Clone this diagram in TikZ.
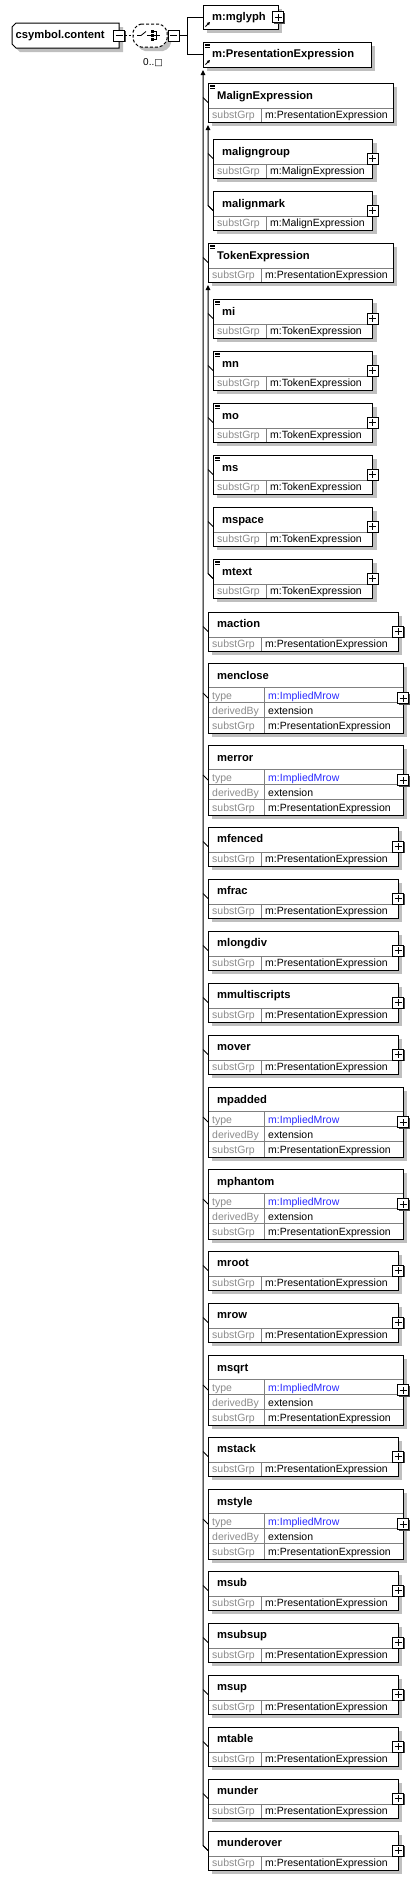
\documentclass[tikz,border=0pt]{standalone}
\usepackage{fontspec}
\setmainfont{Liberation Sans}
\newfontfamily\symfont{DejaVu Sans}
\usepackage{tikz}
\usetikzlibrary{shadows,arrows.meta}
\definecolor{implblue}{RGB}{40,40,255}

\begin{document}
\begin{tikzpicture}[x=1pt, y=-1pt,
    boxshadow/.style={drop shadow={shadow xshift=4pt, shadow yshift=-4pt, fill=black!25, opacity=1}},
    elbox/.style={draw, fill=white, line width=1pt, inner sep=0pt, outer sep=0pt, anchor=north west, boxshadow},
    hold/.style={inner sep=0pt, outer sep=0pt},
    pmbox/.style={draw, fill=white, line width=1pt, inner sep=0pt, outer sep=0pt, minimum size=11pt,
      drop shadow={shadow xshift=1.2pt, shadow yshift=-1.2pt, fill=black!70, opacity=1}},
    pbox/.style={pmbox, path picture={\draw[line width=0.9pt]
      ([xshift=-3.5pt]path picture bounding box.center) -- ([xshift=3.5pt]path picture bounding box.center)
      ([yshift=-3.5pt]path picture bounding box.center) -- ([yshift=3.5pt]path picture bounding box.center);}},
    mbox/.style={pmbox, path picture={\draw[line width=0.9pt]
      ([xshift=-3.5pt]path picture bounding box.center) -- ([xshift=3.5pt]path picture bounding box.center);}},
    eltitle/.style={anchor=base west, inner sep=0pt, font=\bfseries\fontsize{11.2}{13}\selectfont},
    attkey/.style={anchor=base west, inner sep=0pt, text=black!45, font=\fontsize{10.5}{12}\selectfont},
    attval/.style={anchor=base west, inner sep=0pt, font=\fontsize{10.5}{12}\selectfont},
    rowline/.style={draw=black!50, line width=0.8pt},
    link/.style={line width=1pt},
    subtick/.style={line width=0.8pt},
    upline/.style={link, -{Triangle[width=4.5pt,length=5pt]}, shorten >=3pt}]
      \useasboundingbox (0,0) rectangle (417,1880);
      \node[hold, anchor=north west, minimum width=107pt, minimum height=25pt] (csym) at (12,23) {};
      \draw[line width=1pt, fill=white, boxshadow] ([shift={(4,0)}]csym.north west) -- (csym.north east)
        -- (csym.south east) -- ([shift={(4,0)}]csym.south west) -- ([shift={(0,-4)}]csym.south west)
        -- ([shift={(0,4)}]csym.north west) -- cycle;
      \node[eltitle] (csym-t) at (15.5,38.5) {csymbol.content};
      \node[mbox] (csymM) at (csym.east) {};
      \node[hold, minimum width=34pt, minimum height=23pt] (seq) at (150,35.5) {};
      \draw[line width=1pt, fill=white, boxshadow, dash pattern=on 3pt off 2pt, rounded corners=2pt]
        ([shift={(6,0)}]seq.north west) -- ([shift={(-6,0)}]seq.north east) -- ([shift={(0,6)}]seq.north east)
        -- ([shift={(0,-6)}]seq.south east) -- ([shift={(-6,0)}]seq.south east) -- ([shift={(6,0)}]seq.south west)
        -- ([shift={(0,-6)}]seq.south west) -- ([shift={(0,6)}]seq.north west) -- cycle;
      \draw[line width=0.8pt] ([shift={(-13,0)}]seq.center) -- ++(4,0) -- ++(5,-4)
        ([shift={(-3,0)}]seq.center) -- ++(4,0);
      \foreach \d in {-4,0,4}
        \fill ([shift={(1,\d-1.3)}]seq.center) rectangle ++(2.7,2.7);
      \draw[line width=0.8pt] ([shift={(3.7,-4)}]seq.center) -- ++(3,0) -- ++(0,8) -- ++(-3,0)
        ([shift={(3.7,0)}]seq.center) -- ++(6,0);
      \node[mbox] (seqM) at (173.5,35.5) {};
      \node[anchor=base west, inner sep=0pt, font=\fontsize{10}{12}\selectfont] (seq-occ) at (143,65)
        {0..{\symfont\fontsize{9}{10}\selectfont □}};
      \draw[link, dash pattern=on 2pt off 2pt] (csymM.east) -- (seq.west);
      \node[elbox, minimum width=75pt, minimum height=24pt] (mglyph) at (203,5) {};
      \node[eltitle] (mglyph-t) at (212,20.5) {m:mglyph};
      \node[pbox] (mglyph-p) at (mglyph.east) {};
      \draw[line width=0.8pt, -{Triangle[width=3pt,length=3pt]}] ([shift={(2.5,-2.5)}]mglyph.south west) -- ++(4.5,-4.5);
      \node[elbox, minimum width=168pt, minimum height=25pt] (presExpr) at (203,42) {};
      \node[eltitle] (presExpr-t) at (212,57.5) {m:PresentationExpression};
      \draw[line width=0.7pt] ([shift={(2,2)}]presExpr.north west) -- ++(5,0) ++(-5,1.6) -- ++(5,0) ++(-5,1.6) -- ++(5,0);
      \draw[line width=0.8pt, -{Triangle[width=3pt,length=3pt]}] ([shift={(2.5,-2.5)}]presExpr.south west) -- ++(4.5,-4.5);
      \draw[link] (seqM.east) -- ++(8,0) |- (mglyph.west);
      \draw[link] (seqM.east) -- ++(8,0) |- (presExpr.west);
      \foreach \nm/\y in {MalignExpression/83, TokenExpression/243} {
        \node[elbox, minimum width=185pt, minimum height=39pt] (\nm) at (208,\y) {};
        \draw[rowline] (208.5,\y+25) -- ++(184,0) (261,\y+25) -- ++(0,13.5);
        \draw[line width=0.7pt] ([shift={(2,2)}]\nm.north west) -- ++(5,0) ++(-5,1.6) -- ++(5,0) ++(-5,1.6) -- ++(5,0);
        \node[eltitle] (\nm-t) at (217,\y+16) {\nm};
        \node[attkey] (\nm-k) at (212,\y+35) {substGrp};
        \node[attval] (\nm-v) at (265,\y+35) {m:PresentationExpression};
        \draw[subtick] (\nm.west) -- ++(-5,-5);
      }
      \foreach \nm/\y/\grp/\ic in {maligngroup/139/MalignExpression/0, malignmark/191/MalignExpression/0,
          mi/299/TokenExpression/1, mn/351/TokenExpression/1, mo/403/TokenExpression/1,
          ms/455/TokenExpression/1, mspace/507/TokenExpression/0, mtext/559/TokenExpression/1} {
        \node[elbox, minimum width=159.5pt, minimum height=39pt] (\nm) at (213,\y) {};
        \draw[rowline] (213.5,\y+25) -- ++(158.5,0) (266,\y+25) -- ++(0,13.5);
        \ifnum\ic=1
          \draw[line width=0.7pt] ([shift={(2,2)}]\nm.north west) -- ++(5,0) ++(-5,1.6) -- ++(5,0) ++(-5,1.6) -- ++(5,0);
        \fi
        \node[eltitle] (\nm-t) at (222,\y+16) {\nm};
        \node[attkey] (\nm-k) at (217,\y+35) {substGrp};
        \node[attval] (\nm-v) at (270,\y+35) {m:\grp};
        \node[pbox] (\nm-p) at (\nm.east) {};
        \draw[subtick] (\nm.west) -- ++(-5,-5);
      }
      \foreach \nm/\y in {maction/612, mfenced/827, mfrac/879, mlongdiv/931, mmultiscripts/983, mover/1035,
          mroot/1251, mrow/1303, mstack/1437, msub/1571, msubsup/1623, msup/1675, mtable/1727,
          munder/1779, munderover/1831} {
        \node[elbox, minimum width=190pt, minimum height=39pt] (\nm) at (208,\y) {};
        \draw[rowline] (208.5,\y+25) -- ++(189,0) (261,\y+25) -- ++(0,13.5);
        \node[eltitle] (\nm-t) at (217,\y+15.5) {\nm};
        \node[attkey] (\nm-k) at (212,\y+35) {substGrp};
        \node[attval] (\nm-v) at (265,\y+35) {m:PresentationExpression};
        \node[pbox] (\nm-p) at (\nm.east) {};
        \draw[subtick] (\nm.west) -- ++(-5,-5);
      }
      \foreach \nm/\y in {menclose/663, merror/745, mpadded/1087, mphantom/1169, msqrt/1355, mstyle/1489} {
        \node[elbox, minimum width=195pt, minimum height=70pt] (\nm) at (208,\y) {};
        \draw[rowline] (208.5,\y+24) -- ++(194,0) (208.5,\y+39.5) -- ++(194,0) (208.5,\y+54.5) -- ++(194,0)
          (264,\y+24) -- ++(0,45.5);
        \node[eltitle] (\nm-t) at (217,\y+16) {\nm};
        \node[attkey] (\nm-k1) at (212,\y+36) {type};
        \node[attval, text=implblue] (\nm-v1) at (268,\y+36) {m:ImpliedMrow};
        \node[attkey] (\nm-k2) at (212,\y+51) {derivedBy};
        \node[attval] (\nm-v2) at (268,\y+51) {extension};
        \node[attkey] (\nm-k3) at (212,\y+66) {substGrp};
        \node[attval] (\nm-v3) at (268,\y+66) {m:PresentationExpression};
        \node[pbox] (\nm-p) at (\nm.east) {};
        \draw[subtick] (\nm.west) -- ++(-5,-5);
      }
      \draw[upline] (munderover.west) -- ++(-5,-5) -- (presExpr.south west);
      \draw[upline] (malignmark.west) -- ++(-5,-5) -- (MalignExpression.south west);
      \draw[upline] (mtext.west) -- ++(-5,-5) -- (TokenExpression.south west);
    \end{tikzpicture}
\end{document}
